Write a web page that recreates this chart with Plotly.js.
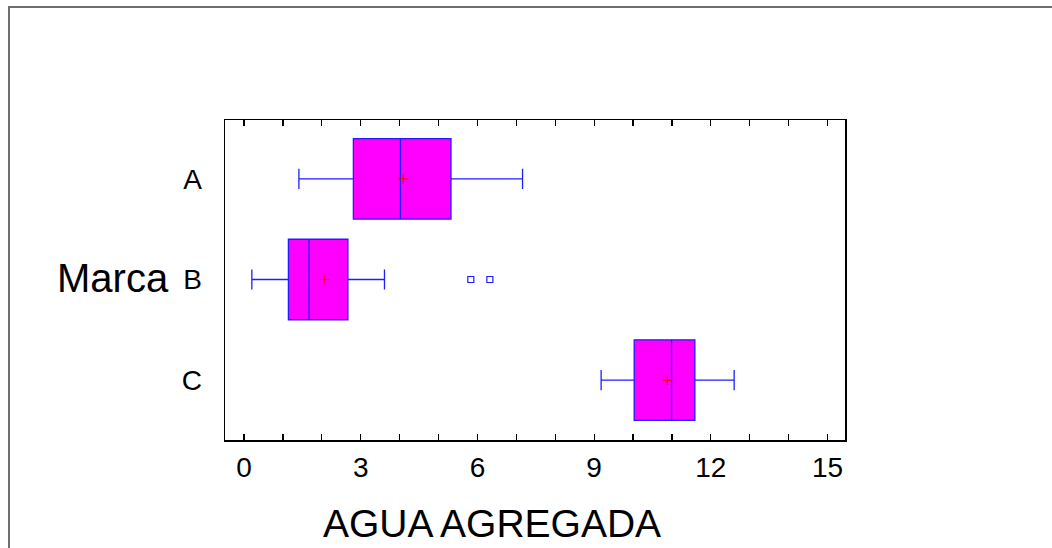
<!DOCTYPE html>
<html>
<head>
<meta charset="utf-8">
<script src="https://cdn.plot.ly/plotly-3.0.1.min.js"></script>
<style>
  html, body { margin: 0; padding: 0; background: #ffffff; }
  #chart { width: 1052px; height: 548px; position: absolute; left: 0; top: 0; }
  #frame { position: absolute; left: 8px; top: 6px; width: 1100px; height: 600px;
           border-top: 2px solid #6e6e6e; border-left: 2px solid #6e6e6e;
           pointer-events: none; z-index: 10; }
</style>
</head>
<body>
<div id="chart"></div>
<div id="frame"></div>
<script>
// ---- data ----
const categories = ['A', 'B', 'C'];
const q1Values = [2.81, 1.14, 10.03];
const medianValues = [4.02, 1.67, 10.99];
const q3Values = [5.32, 2.67, 11.59];
const lowerWhisker = [1.41, 0.20, 9.18];
const upperWhisker = [7.16, 3.61, 12.60];
const meanValues = [4.09, 2.06, 10.88];
const outlierCategories = ['B', 'B'];
const outlierValues = [5.83, 6.32];
const xTickVals = [0, 1, 2, 3, 4, 5, 6, 7, 8, 9, 10, 11, 12, 13, 14, 15];
const xTickText = ['0', '', '', '3', '', '', '6', '', '', '9', '', '', '12', '', '', '15'];
const xTitle = 'AGUA AGREGADA';
const yTitle = 'Marca';

const FONT = '"Liberation Sans", Arial, Helvetica, sans-serif';
const BLUE = 'rgb(30,30,255)';

const traces = [
  {
    type: 'box',
    orientation: 'h',
    y: categories,
    q1: q1Values,
    median: medianValues,
    q3: q3Values,
    lowerfence: lowerWhisker,
    upperfence: upperWhisker,
    width: 0.8,
    whiskerwidth: 0.25,
    fillcolor: '#ff00ff',
    line: { color: BLUE, width: 1.3 },
    boxpoints: false,
    hoverinfo: 'skip',
    showlegend: false
  },
  {
    type: 'scatter',
    mode: 'markers',
    x: meanValues,
    y: categories,
    marker: { symbol: 'cross-thin', size: 7, line: { color: '#ff0000', width: 1.2 } },
    showlegend: false
  },
  {
    type: 'scatter',
    mode: 'markers',
    x: outlierValues,
    y: outlierCategories,
    marker: { symbol: 'square-open', size: 6, color: BLUE, line: { color: BLUE, width: 1.2 } },
    showlegend: false
  }
];

const layout = {
  width: 1052,
  height: 548,
  margin: { l: 225, r: 207, t: 120, b: 108, pad: 0 },
  paper_bgcolor: '#ffffff',
  plot_bgcolor: '#ffffff',
  font: { family: FONT, color: '#000000' },
  showlegend: false,
  xaxis: {
    range: [-0.49, 15.45],
    tickmode: 'array',
    tickvals: xTickVals,
    ticktext: xTickText,
    ticks: 'inside',
    ticklen: 6,
    tickwidth: 1.2,
    tickcolor: '#000000',
    showline: true,
    linecolor: '#000000',
    linewidth: 1.5,
    mirror: 'ticks',
    showgrid: false,
    zeroline: false,
    tickfont: { family: FONT, size: 28, color: '#000000' },
    ticklabelstandoff: 2
  },
  yaxis: {
    type: 'category',
    categoryorder: 'array',
    categoryarray: categories,
    range: [2.595, -0.585],
    ticks: '',
    showline: true,
    linecolor: '#000000',
    linewidth: 1.5,
    mirror: true,
    showgrid: false,
    zeroline: false,
    tickfont: { family: FONT, size: 28, color: '#000000' },
    ticklabelstandoff: 16
  },
  annotations: [
    {
      text: xTitle, xref: 'paper', yref: 'paper',
      x: 0.43, y: -0.262, xanchor: 'center', yanchor: 'middle',
      showarrow: false, font: { family: FONT, size: 39, color: '#000000' }
    },
    {
      text: yTitle, xref: 'paper', yref: 'paper',
      x: -0.087, y: 0.505, xanchor: 'right', yanchor: 'middle',
      showarrow: false, font: { family: FONT, size: 40, color: '#000000' }
    }
  ]
};

Plotly.newPlot('chart', traces, layout, { displayModeBar: false, staticPlot: true });
</script>
</body>
</html>
